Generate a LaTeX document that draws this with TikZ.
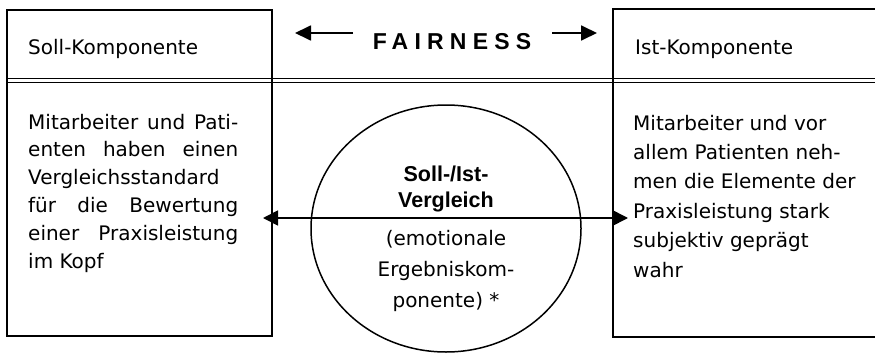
\documentclass[tikz,border=0pt]{standalone}
\usepackage{fontspec}
\setmainfont{DejaVu Sans}
\newfontfamily\headfont{Liberation Sans}
\newfontfamily\spacedfont{Liberation Sans}[LetterSpace=27]
\usetikzlibrary{arrows.meta,shapes.geometric}
\begin{document}
\begin{tikzpicture}[x=1pt,y=-1pt,
  frame/.style={line width=2pt},
  rule/.style={line width=1.3pt},
  body/.style={font=\fontsize{20}{24}\selectfont, inner sep=0pt, anchor=base west},
  ctext/.style={font=\fontsize{20}{24}\selectfont, inner sep=0pt, anchor=base},
  cbold/.style={font=\fontsize{21.5}{24}\headfont\bfseries, inner sep=0pt, anchor=base},
  link/.style={line width=1.6pt, {Triangle[length=15pt,width=15pt]}-{Triangle[length=15pt,width=15pt]}},
  pointer/.style={line width=1.8pt, -{Triangle[length=16pt,width=15pt]}}]
\useasboundingbox (0,0) rectangle (875,353);

% header rule under the two titles
\draw[rule] (7,78.2) -- (875,78.2);
\draw[rule] (7,82.6) -- (875,82.6);

% Soll box and the open Ist box
\draw[frame] (7,10) rectangle (272,336);
\draw[frame] (876,9) -- (613,9) -- (613,337) -- (876,337);

% headings
\node[body] (soll) at (28,55) {Soll-Komponente};
\node[body] (ist) at (635,55) {Ist-Komponente};
\node[font=\fontsize{23}{26}\spacedfont\bfseries, inner sep=0pt, anchor=base] (fair) at (452,50) {FAIRNESS};
\coordinate (fl1) at (353,33);
\coordinate (fl2) at (295,33);
\coordinate (fr1) at (552,33);
\coordinate (fr2) at (597,33);
\draw[pointer] (fl1) -- (fl2);
\draw[pointer] (fr1) -- (fr2);

% Soll text, justified
\foreach \t [count=\i] in {%
  {\makebox[210pt][s]{Mitarbeiter und Pati-}},
  {\makebox[210pt][s]{enten haben einen}},
  {Vergleichsstandard},
  {\makebox[210pt][s]{für die Bewertung}},
  {\makebox[210pt][s]{einer Praxisleistung}},
  {im Kopf}}
  \node[body] (sl\i) at (28,{129+27.8*(\i-1)}) {\t};

% Ist text, ragged right
\foreach \t [count=\i] in {%
  {Mitarbeiter und vor},
  {allem Patienten neh-},
  {men die Elemente der},
  {Praxisleistung stark},
  {subjektiv geprägt},
  {wahr}}
  \node[body] (il\i) at (633,{130+29.4*(\i-1)}) {\t};

% comparison ellipse
\node[draw, ellipse, line width=1.5pt, minimum width=270pt, minimum height=247pt, inner sep=0pt] (cmp) at (446,228.5) {};
\node[cbold] (c1) at (446,181) {Soll-/Ist-};
\node[cbold] (c2) at (446,207) {Vergleich};
\node[ctext] (c3) at (446,245) {(emotionale};
\node[ctext] (c4) at (446,276) {Ergebniskom-};
\node[ctext] (c5) at (446,307) {ponente) *};

% double arrow across both boxes
\coordinate (al) at (263,218);
\coordinate (ar) at (628,218);
\draw[link] (al) -- (ar);
\end{tikzpicture}
\end{document}
